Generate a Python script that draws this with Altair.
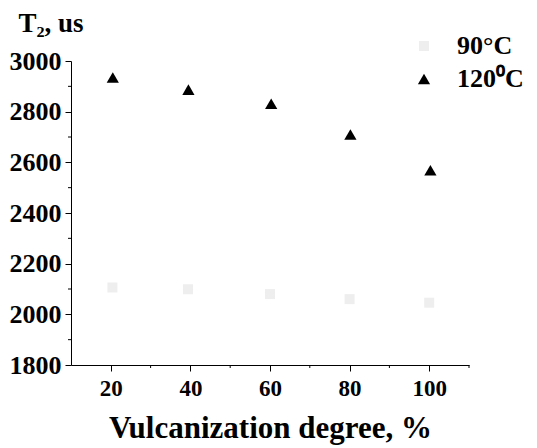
import altair as alt
import pandas as pd

# ---- data ----
series = ["90°C", "120⁰C"]
degree_90 = [20.4, 39.4, 60.0, 80.0, 100.0]
t2_90 = [2106, 2099, 2080, 2060, 2046]
degree_120 = [20.5, 39.5, 60.3, 80.2, 100.3]
t2_120 = [2935, 2887, 2831, 2710, 2569]

x_major = [20, 40, 60, 80, 100]
x_minor = [30, 50, 70, 90, 110]
y_major = [1800, 2000, 2200, 2400, 2600, 2800, 3000]
y_minor = [1900, 2100, 2300, 2500, 2700, 2900]

FONT = "Liberation Serif"
W, H = 398, 304

df = pd.DataFrame({
    "degree": degree_90 + degree_120,
    "t2": t2_90 + t2_120,
    "series": [series[0]] * len(degree_90) + [series[1]] * len(degree_120),
})

xscale = alt.Scale(domain=[10, 110], nice=False, zero=False)
yscale = alt.Scale(domain=[1800, 3000], nice=False, zero=False)

x_axis = alt.Axis(values=x_major, format="d", title="Vulcanization degree, %",
                  labelFontSize=23, tickSize=6, labelPadding=6,
                  titleFontSize=31, titleY=72, titleBaseline="alphabetic")
y_axis = alt.Axis(values=y_major, format="d", title="T₂, us", labelFontSize=26,
                  tickSize=6, labelPadding=4,
                  titleAngle=0, titleAlign="left", titleBaseline="alphabetic",
                  titleX=-53, titleY=-30, titleFontSize=27)

leg = alt.Legend(title=None, orient="none", legendX=340, legendY=-28,
                 labelFontSize=26, labelOffset=20, rowPadding=7,
                 symbolSize=180, padding=0)

points = alt.Chart(df).mark_point(filled=True, opacity=1, strokeWidth=0).encode(
    x=alt.X("degree:Q", scale=xscale, axis=x_axis),
    y=alt.Y("t2:Q", scale=yscale, axis=y_axis),
    shape=alt.Shape("series:N", scale=alt.Scale(domain=series, range=["square", "triangle-up"]), legend=leg),
    color=alt.Color("series:N", scale=alt.Scale(domain=series, range=["#eeeeee", "#000000"]), legend=leg),
    size=alt.Size("series:N", scale=alt.Scale(domain=series, range=[100, 150]), legend=None),
)

xminor = alt.Chart(pd.DataFrame({"degree": x_minor})).mark_rule(color="black", strokeWidth=1).encode(
    x=alt.X("degree:Q", scale=xscale, axis=x_axis),
    y=alt.value(H), y2=alt.value(H + 3),
)
yminor = alt.Chart(pd.DataFrame({"t2": y_minor})).mark_rule(color="black", strokeWidth=1).encode(
    y=alt.Y("t2:Q", scale=yscale, axis=y_axis),
    x=alt.value(-3), x2=alt.value(0),
)

chart = alt.layer(points, xminor, yminor).properties(
    width=W, height=H,
    padding={"left": 63, "top": 53, "right": 60, "bottom": 82},
    autosize=alt.AutoSizeParams(type="none"),
).configure_view(stroke=None).configure_axis(
    grid=False, domainColor="black", tickColor="black", labelColor="black",
    titleColor="black", labelFont=FONT, titleFont=FONT,
    labelFontWeight="bold", titleFontWeight="bold", domainWidth=1, tickWidth=1,
).configure_legend(
    labelFont=FONT, labelFontWeight="bold", labelColor="black",
)

chart.save("out.html", embed_options={"renderer": "svg", "actions": False})
